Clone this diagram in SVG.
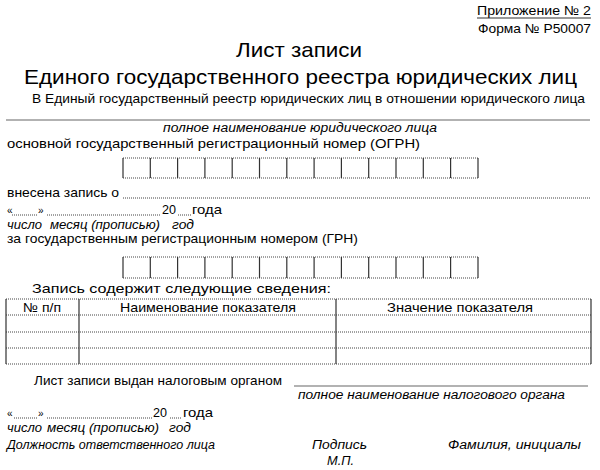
<svg xmlns="http://www.w3.org/2000/svg" width="600" height="470" viewBox="0 0 600 470">
<style>
text{font-family:"Liberation Sans",Arial,sans-serif;fill:#000;}
.b{font-size:13px;}
.i{font-size:12.5px;font-style:italic;}
.s{font-size:10px;}
.h{font-size:21px;}
.dot{stroke:#444;stroke-width:1;stroke-dasharray:1 1;fill:none;}
.sol{stroke:#333;stroke-width:1.2;fill:none;}
.gl{stroke:#666;stroke-width:1.2;fill:none;}
</style>
<rect width="600" height="470" fill="#fff"/>
<g id="header">
<text class="b" x="591" y="15" text-anchor="end" textLength="114" lengthAdjust="spacingAndGlyphs" font-size="16">Приложение № 2</text>
<line x1="477" y1="18" x2="591" y2="18" class="sol" stroke-width="1"/>
<text class="b" x="591" y="33" text-anchor="end" textLength="113" lengthAdjust="spacingAndGlyphs">Форма № Р50007</text>
<text class="h" x="299" y="57" text-anchor="middle" textLength="126" lengthAdjust="spacingAndGlyphs">Лист записи</text>
<text class="h" x="24" y="84" textLength="553" lengthAdjust="spacingAndGlyphs">Единого государственного реестра юридических лиц</text>
<text class="b" x="32" y="103" textLength="553" lengthAdjust="spacingAndGlyphs">В Единый государственный реестр юридических лиц в отношении юридического лица</text>
</g>
<g id="connectors">
<line x1="6" y1="120" x2="590" y2="120" class="gl"/>
<line x1="123" y1="198" x2="590" y2="198" class="dot"/>
<line x1="294" y1="386" x2="588" y2="386" class="gl"/>
</g>
<g id="legal-name">
<text class="i" x="300" y="132" text-anchor="middle" textLength="274" lengthAdjust="spacingAndGlyphs">полное наименование юридического лица</text>
<text class="b" x="7" y="148" textLength="413" lengthAdjust="spacingAndGlyphs">основной государственный регистрационный номер (ОГРН)</text>
</g>
<g id="ogrn-boxes">
<line x1="123" y1="158" x2="478" y2="158" class="dot"/>
<line x1="123" y1="178" x2="478" y2="178" class="dot"/>
<path class="sol" d="M123 158V178M150.3 158V178M177.6 158V178M204.9 158V178M232.2 158V178M259.5 158V178M286.8 158V178M314.1 158V178M341.4 158V178M368.7 158V178M396 158V178M423.3 158V178M450.6 158V178M478 158V178"/>
</g>
<g id="entry">
<text class="b" x="7" y="197" textLength="112" lengthAdjust="spacingAndGlyphs">внесена запись о</text>
<text class="s" x="7" y="214">«</text>
<line x1="12" y1="215" x2="37" y2="215" class="dot"/>
<text class="s" x="38" y="214">»</text>
<line x1="47" y1="215" x2="160" y2="215" class="dot"/>
<text class="b" x="162" y="214" textLength="14" lengthAdjust="spacingAndGlyphs">20</text>
<line x1="178" y1="215" x2="191" y2="215" class="dot"/>
<text class="b" x="192" y="214" textLength="30" lengthAdjust="spacingAndGlyphs">года</text>
<text class="i" x="7" y="229" textLength="35" lengthAdjust="spacingAndGlyphs">число</text>
<text class="i" x="50" y="229" textLength="110" lengthAdjust="spacingAndGlyphs">месяц (прописью)</text>
<text class="i" x="172" y="229" textLength="22" lengthAdjust="spacingAndGlyphs">год</text>
<text class="b" x="7" y="243" textLength="351" lengthAdjust="spacingAndGlyphs">за государственным регистрационным номером (ГРН)</text>
</g>
<g id="grn-boxes">
<line x1="123" y1="257" x2="478" y2="257" class="dot"/>
<line x1="123" y1="278" x2="478" y2="278" class="dot"/>
<path class="sol" d="M123 257V278M150.3 257V278M177.6 257V278M204.9 257V278M232.2 257V278M259.5 257V278M286.8 257V278M314.1 257V278M341.4 257V278M368.7 257V278M396 257V278M423.3 257V278M450.6 257V278M478 257V278"/>
</g>
<g id="table">
<text class="b" x="32" y="293" textLength="299" lengthAdjust="spacingAndGlyphs">Запись содержит следующие сведения:</text>
<path class="dot" d="M6 299H591M6 315H591M6 332H591M6 348H591M6 364H591"/>
<path class="sol" d="M6 299V364M79 299V364M336 299V364M591 299V364"/>
<text class="b" x="42" y="312" text-anchor="middle" textLength="38" lengthAdjust="spacingAndGlyphs">№ п/п</text>
<text class="b" x="208" y="312" text-anchor="middle" textLength="176" lengthAdjust="spacingAndGlyphs">Наименование показателя</text>
<text class="b" x="460" y="312" text-anchor="middle" textLength="146" lengthAdjust="spacingAndGlyphs">Значение показателя</text>
</g>
<g id="issued">
<text class="b" x="34" y="385" textLength="248" lengthAdjust="spacingAndGlyphs">Лист записи выдан налоговым органом</text>
<text class="i" x="298" y="399" textLength="267" lengthAdjust="spacingAndGlyphs">полное наименование налогового органа</text>
<text class="s" x="7" y="417">«</text>
<line x1="14" y1="418" x2="37" y2="418" class="dot"/>
<text class="s" x="38" y="417">»</text>
<line x1="47" y1="418" x2="152" y2="418" class="dot"/>
<text class="b" x="153" y="417" textLength="14" lengthAdjust="spacingAndGlyphs">20</text>
<line x1="170" y1="418" x2="182" y2="418" class="dot"/>
<text class="b" x="183" y="417" textLength="30" lengthAdjust="spacingAndGlyphs">года</text>
<text class="i" x="7" y="432" textLength="35" lengthAdjust="spacingAndGlyphs">число</text>
<text class="i" x="47" y="432" textLength="112" lengthAdjust="spacingAndGlyphs">месяц (прописью)</text>
<text class="i" x="169" y="432" textLength="22" lengthAdjust="spacingAndGlyphs">год</text>
</g>
<g id="signatures">
<text class="i" x="7" y="449" textLength="208" lengthAdjust="spacingAndGlyphs">Должность ответственного лица</text>
<text class="i" x="312" y="449" textLength="55" lengthAdjust="spacingAndGlyphs">Подпись</text>
<text class="i" x="448" y="449" textLength="133" lengthAdjust="spacingAndGlyphs">Фамилия, инициалы</text>
<text class="i" x="327" y="465" textLength="27" lengthAdjust="spacingAndGlyphs">М.П.</text>
</g>
</svg>
